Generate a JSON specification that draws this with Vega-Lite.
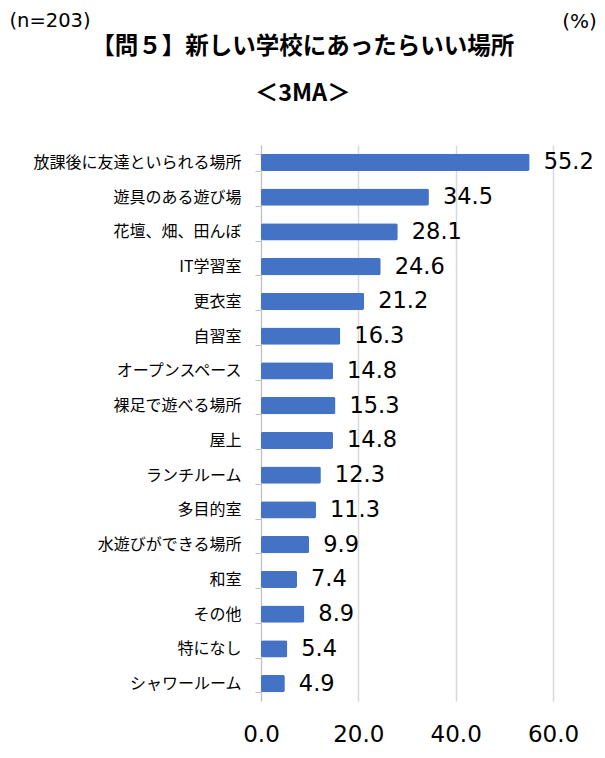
{
  "$schema": "https://vega.github.io/schema/vega-lite/v6.json",
  "width": 292,
  "height": 556,
  "autosize": {"type": "none"},
  "padding": {"left": 261, "top": 145, "right": 52, "bottom": 57},
  "background": "white",
  "title": {
    "text": "【問５】新しい学校にあったらいい場所",
    "subtitle": "＜3MA＞",
    "font": "Noto Sans CJK JP",
    "fontSize": 23.5,
    "fontWeight": "bold",
    "subtitleFont": "Noto Sans CJK JP",
    "subtitleFontSize": 23.5,
    "subtitleFontWeight": "bold",
    "subtitleColor": "#000000",
    "color": "#000000",
    "subtitlePadding": 23,
    "anchor": "middle",
    "frame": "bounds",
    "offset": -95
  },
  "data": {
    "values": [
      {"place": "放課後に友達といられる場所", "pct": 55.2},
      {"place": "遊具のある遊び場", "pct": 34.5},
      {"place": "花壇、畑、田んぼ", "pct": 28.1},
      {"place": "IT学習室", "pct": 24.6},
      {"place": "更衣室", "pct": 21.2},
      {"place": "自習室", "pct": 16.3},
      {"place": "オープンスペース", "pct": 14.8},
      {"place": "裸足で遊べる場所", "pct": 15.3},
      {"place": "屋上", "pct": 14.8},
      {"place": "ランチルーム", "pct": 12.3},
      {"place": "多目的室", "pct": 11.3},
      {"place": "水遊びができる場所", "pct": 9.9},
      {"place": "和室", "pct": 7.4},
      {"place": "その他", "pct": 8.9},
      {"place": "特になし", "pct": 5.4},
      {"place": "シャワールーム", "pct": 4.9}
    ]
  },
  "encoding": {
    "y": {
      "field": "place",
      "type": "nominal",
      "sort": null,
      "scale": {"paddingInner": 0.5, "paddingOuter": 0.25},
      "axis": {
        "title": "(n=203)",
        "titleAngle": 0,
        "titleAlign": "left",
        "titleBaseline": "middle",
        "titleX": -252,
        "titleY": -125,
        "titleFont": "DejaVu Sans",
        "titleFontSize": 19.5,
        "titleFontWeight": "normal",
        "titleColor": "#000000",
        "labelFont": "Noto Sans CJK JP",
        "labelFontSize": 16,
        "labelColor": "#000000",
        "labelPadding": 14,
        "labelLimit": 400,
        "tickBand": "extent",
        "tickSize": 6,
        "tickColor": "#bfbfbf",
        "domainColor": "#bfbfbf",
        "grid": false
      }
    },
    "x": {
      "field": "pct",
      "type": "quantitative",
      "scale": {"domain": [0, 60], "nice": false},
      "axis": {
        "values": [0, 20, 40, 60],
        "format": ".1f",
        "title": "(%)",
        "titleAngle": 0,
        "titleAlign": "center",
        "titleBaseline": "middle",
        "titleX": 318,
        "titleY": -680,
        "titleFont": "DejaVu Sans",
        "titleFontSize": 20,
        "titleFontWeight": "normal",
        "titleColor": "#000000",
        "labelFont": "DejaVu Sans",
        "labelFontSize": 23,
        "labelColor": "#000000",
        "labelPadding": 22,
        "labelFlush": false,
        "labelOverlap": false,
        "domain": false,
        "ticks": false,
        "grid": true,
        "gridColor": "#d9d9d9",
        "gridWidth": 1.5
      }
    }
  },
  "layer": [
    {
      "mark": {"type": "bar", "color": "#4472C4", "cornerRadius": 2}
    },
    {
      "mark": {"type": "text", "align": "left", "baseline": "middle", "dx": 14, "fontSize": 22.5, "font": "DejaVu Sans", "color": "#000000"},
      "encoding": {
        "text": {"field": "pct", "type": "quantitative", "format": ".1f"}
      }
    }
  ],
  "config": {
    "view": {"stroke": null}
  }
}
